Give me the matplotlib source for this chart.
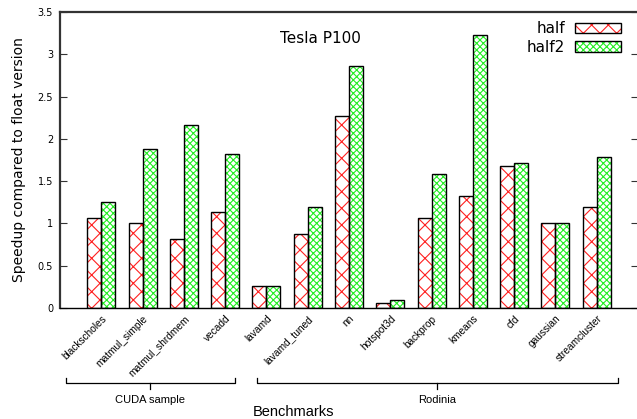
import matplotlib
matplotlib.use("Agg")
import matplotlib.pyplot as plt
import matplotlib.transforms as mtransforms
from matplotlib.patches import Patch
from matplotlib.legend_handler import HandlerTuple
import numpy as np

benchmarks = ["blackscholes", "matmul_simple", "matmul_shrdmem", "vecadd",
              "lavamd", "lavamd_tuned", "nn", "hotspot3d", "backprop",
              "kmeans", "cfd", "gaussian", "streamcluster"]
half = [1.06, 1.01, 0.82, 1.13, 0.26, 0.88, 2.27, 0.055, 1.06, 1.33, 1.675, 1.0, 1.19]
half2 = [1.25, 1.88, 2.16, 1.82, 0.26, 1.19, 2.86, 0.10, 1.59, 3.23, 1.72, 1.0, 1.78]
groups = [("CUDA sample", 0, 3), ("Rodinia", 4, 12)]
yticks = [0, 0.5, 1, 1.5, 2, 2.5, 3, 3.5]

W, H = 637, 419
fig = plt.figure(figsize=(W / 100, H / 100), dpi=100)
ax = fig.add_axes([60 / W, (H - 308) / H, 578 / W, 296 / H])

x = np.arange(len(benchmarks))
bw = 0.34
RED = "#ff2020"
GREEN = "#22ee22"
HATCH_RED = "xx"
HATCH_GREEN = "xxxxx"

plt.rcParams['hatch.linewidth'] = 0.8
ax.bar(x - bw / 2, half, bw, facecolor="white", edgecolor=RED, hatch=HATCH_RED, linewidth=0, zorder=2)
ax.bar(x - bw / 2, half, bw, fill=False, edgecolor="black", linewidth=1.0, zorder=3)
ax.bar(x + bw / 2, half2, bw, facecolor="white", edgecolor=GREEN, hatch=HATCH_GREEN, linewidth=0, zorder=2)
ax.bar(x + bw / 2, half2, bw, fill=False, edgecolor="black", linewidth=1.0, zorder=3)

ax.set_xlim(-1, 13)
ax.set_ylim(0, 3.5)
ax.set_yticks(yticks)
ax.set_yticklabels([f"{v:g}" for v in yticks], fontsize=7, family="DejaVu Sans")
ax.tick_params(axis="y", which="both", direction="in", length=5, width=0.8, pad=5,
               left=True, right=True, color="#333333")
ax.set_xticks(x)
ax.set_xticklabels(benchmarks, rotation=45, ha="right", va="top", rotation_mode="anchor",
                   fontsize=7.3, family="Liberation Sans")
ax.tick_params(axis="x", length=0, pad=4)

for s in ["top", "left"]:
    ax.spines[s].set_color("#333333")
    ax.spines[s].set_linewidth(1.6)
ax.spines["bottom"].set_color("black")
ax.spines["bottom"].set_linewidth(1.0)
ax.spines["right"].set_visible(False)

ax.set_ylabel("Speedup compared to float version", fontsize=10, family="DejaVu Sans", labelpad=8)

ax.text(0.451, 0.91, "Tesla P100", transform=ax.transAxes, ha="center", va="center",
        fontsize=11, family="DejaVu Sans")

# legend
h1 = Patch(facecolor="white", edgecolor=RED, hatch=HATCH_RED, linewidth=0)
h1e = Patch(fill=False, edgecolor="black", linewidth=1.0)
h2 = Patch(facecolor="white", edgecolor=GREEN, hatch=HATCH_GREEN, linewidth=0)
h2e = Patch(fill=False, edgecolor="black", linewidth=1.0)
leg = ax.legend([(h1, h1e), (h2, h2e)], ["half", "half2"],
                handler_map={tuple: HandlerTuple(ndivide=1, pad=0)},
                loc="upper right", bbox_to_anchor=((621 - 60) / 578, (308 - 21) / 296),
                frameon=False, borderaxespad=0, borderpad=0,
                markerfirst=False, prop={"family": "DejaVu Sans", "size": 11},
                handlelength=3.0, handleheight=0.65, labelspacing=0.25, handletextpad=0.65)

# group brackets
trans = mtransforms.blended_transform_factory(ax.transData, ax.transAxes)
offsets = {"CUDA sample": (-0.86, 0.24), "Rodinia": (-0.23, 0.51)}
y_line = -0.253
for name, i0, i1 in groups:
    lo = i0 + offsets[name][0]
    hi = i1 + offsets[name][1]
    mid = (lo + hi) / 2
    ax.plot([lo, lo, hi, hi], [y_line + 0.018, y_line, y_line, y_line + 0.018],
            color="black", lw=0.9, transform=trans, clip_on=False)
    ax.plot([mid, mid], [y_line, y_line - 0.02], color="black", lw=0.9,
            transform=trans, clip_on=False)
    ax.text(mid, -0.311, name, transform=trans, ha="center", va="center",
            fontsize=8, family="Liberation Sans")

fig.text(293 / W, 1 - 412 / H, "Benchmarks", ha="center", va="center",
         fontsize=10.5, family="Liberation Sans")

fig.savefig("out.png", dpi=100)
